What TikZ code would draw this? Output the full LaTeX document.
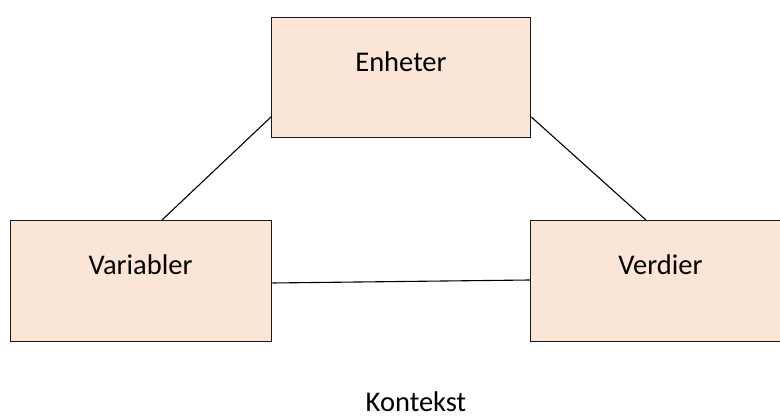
\documentclass[tikz,border=0pt]{standalone}
\usepackage{fontspec}
\setmainfont{Carlito}
\definecolor{boxfill}{HTML}{FBE5D6}
\begin{document}
\begin{tikzpicture}[x=1pt,y=1pt,
  box/.style={draw=black!90, line width=1.3pt, fill=boxfill, rectangle,
    inner sep=0pt, anchor=north west},
  lbl/.style={anchor=base, inner sep=0pt, font=\fontsize{28.5}{34}\selectfont},
  link/.style={draw=black, line width=1.1pt}]
  \useasboundingbox (0,0) rectangle (780,-417);
  % boxes
  \begin{scope}
    \clip (0,0) rectangle (780,-417);
    \node[box, minimum width=259pt, minimum height=120pt] (enh) at (271,-17) {};
    \node[box, minimum width=261pt, minimum height=121pt] (var) at (10,-220) {};
    \node[box, minimum width=262pt, minimum height=121pt] (ver) at (530,-220) {};
  \end{scope}
  % box captions
  \node[lbl] (enhT) at (401,-72) {Enheter};
  \node[lbl] (varT) at (140.5,-275) {Variabler};
  \node[lbl] (verT) at (660.5,-275) {Verdier};
  % connectors
  \draw[link] ([xshift=152pt]var.north west) -- ([yshift=-100pt]enh.north west);
  \draw[link] ([yshift=-100pt]enh.north east) -- ([xshift=116pt]ver.north west);
  \draw[link] ([yshift=-63pt]var.north east) -- ([yshift=-60pt]ver.north west);
  % caption below
  \node[lbl] (ctx) at (416,-411) {Kontekst};
\end{tikzpicture}
\end{document}
